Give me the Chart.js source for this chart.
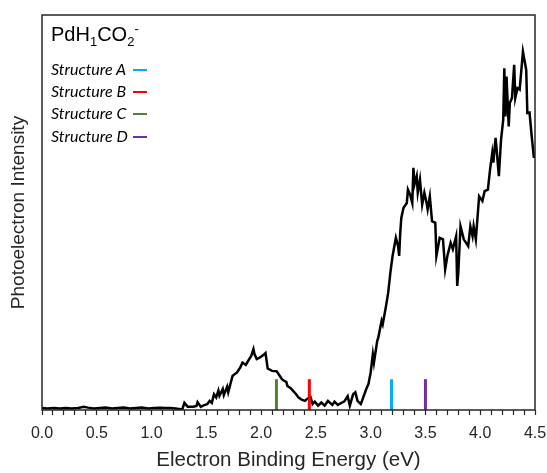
<!DOCTYPE html>
<html lang="en">
<head>
<meta charset="UTF-8">
<title>PdH1CO2- photoelectron spectrum</title>
<script src="https://cdn.jsdelivr.net/npm/chart.js@4.4.2/dist/chart.umd.min.js"></script>
<style>
    body {
        margin: 0;
        background: #fff;
    }
    .wrap {
        position: relative;
        width: 547px;
        height: 473px;
    }
    .species {
        position: absolute;
        left: 51px;
        top: 22px;
        font-family: "Liberation Sans", Arial, sans-serif;
        font-size: 20px;
        color: #000;
        line-height: 24px;
    }
    .species sub, .species sup {
        font-size: 13px;
        line-height: 0;
    }
    .struct {
        position: absolute;
        left: 51px;
        font-family: Lato, "Open Sans", sans-serif;
        font-style: italic;
        font-size: 16px;
        color: #000;
        line-height: 18px;
    }
    .dash {
        position: absolute;
        width: 14px;
        height: 2px;
    }
</style>
</head>
<body>
<div class="wrap">
    <canvas id="pesChart" width="547" height="473"></canvas>
    <div class="species">PdH<sub>1</sub>CO<sub>2</sub><sup>-</sup></div>
    <div id="legend"></div>
</div>

<script>
// electron binding energy (eV) and photoelectron intensity (arb. units, 0-100)
const energy = [
    0.00, 0.05, 0.11, 0.16, 0.22, 0.27, 0.33, 0.38, 0.42, 0.47,
    0.53, 0.58, 0.64, 0.69, 0.75, 0.80, 0.86, 0.91, 0.97, 1.02,
    1.08, 1.13, 1.17, 1.22, 1.28, 1.30, 1.33, 1.38, 1.41, 1.42,
    1.45, 1.47, 1.51, 1.53, 1.55, 1.57, 1.59, 1.61, 1.62, 1.65,
    1.66, 1.69, 1.70, 1.72, 1.74, 1.78, 1.81, 1.83, 1.86, 1.88,
    1.91, 1.93, 1.94, 1.96, 1.99, 2.02, 2.04, 2.06, 2.10, 2.14,
    2.15, 2.19, 2.21, 2.23, 2.24, 2.27, 2.29, 2.32, 2.34, 2.37,
    2.40, 2.42, 2.45, 2.47, 2.49, 2.52, 2.55, 2.58, 2.61, 2.65,
    2.67, 2.70, 2.74, 2.76, 2.79, 2.81, 2.84, 2.86, 2.88, 2.91,
    2.93, 2.96, 2.98, 3.00, 3.02, 3.03, 3.06, 3.07, 3.10, 3.11,
    3.14, 3.16, 3.18, 3.20, 3.23, 3.25, 3.26, 3.27, 3.28, 3.30,
    3.33, 3.34, 3.36, 3.38, 3.39, 3.40, 3.42, 3.43, 3.45, 3.47,
    3.48, 3.49, 3.51, 3.52, 3.54, 3.56, 3.59, 3.60, 3.63, 3.66,
    3.68, 3.70, 3.73, 3.75, 3.78, 3.79, 3.80, 3.82, 3.85, 3.89,
    3.91, 3.93, 3.94, 3.96, 3.99, 4.02, 4.04, 4.07, 4.09, 4.11,
    4.12, 4.14, 4.15, 4.17, 4.19, 4.21, 4.22, 4.23, 4.24, 4.26,
    4.27, 4.29, 4.31, 4.32, 4.34, 4.36, 4.39, 4.42, 4.43, 4.45,
    4.47, 4.49
];
const intensity = [
    0.5, 0.4, 0.5, 0.4, 0.5, 0.4, 0.5, 0.8, 0.6, 0.4,
    0.5, 0.6, 0.4, 0.5, 0.6, 0.4, 0.5, 0.6, 0.4, 0.5,
    0.6, 0.5, 0.5, 0.4, 0.1, 1.8, 0.8, 0.8, 1.0, 2.0,
    0.8, 1.1, 1.5, 2.3, 1.8, 4.0, 3.2, 4.9, 3.6, 5.3,
    3.8, 5.9, 4.5, 6.6, 8.7, 9.5, 10.8, 12.0, 11.4, 12.4,
    13.7, 15.4, 14.1, 12.9, 13.3, 13.9, 14.4, 10.5, 9.9, 9.8,
    9.5, 7.8, 7.4, 7.1, 6.1, 5.5, 4.9, 4.0, 3.2, 2.6,
    2.3, 2.8, 3.3, 1.5, 2.1, 1.1, 1.9, 1.1, 2.3, 1.3,
    2.1, 1.3, 1.9, 2.2, 3.5, 1.1, 4.0, 4.5, 2.3, 1.5,
    3.0, 5.3, 6.6, 9.5, 14.1, 12.0, 17.5, 18.4, 22.6, 21.7,
    26.3, 29.7, 34.8, 39.0, 43.6, 41.5, 39.0, 44.9, 48.7, 51.2,
    52.4, 55.8, 54.5, 52.4, 61.3, 57.1, 59.2, 55.0, 58.3, 52.0,
    53.5, 55.0, 52.5, 50.8, 54.1, 47.8, 47.4, 39.0, 43.6, 43.2,
    35.6, 39.0, 42.3, 40.7, 44.0, 31.4, 34.8, 46.5, 43.2, 41.5,
    46.5, 44.0, 46.5, 43.2, 54.1, 52.9, 55.4, 55.8, 60.9, 65.1,
    62.6, 68.9, 65.9, 59.2, 68.4, 73.5, 86.5, 74.3, 84.4, 71.8,
    77.7, 79.0, 87.4, 79.0, 81.5, 81.1, 90.7, 86.1, 75.2, 75.3,
    69.3, 63.8
];

// calculated detachment energies of the four candidate structures
const structureNames = ['Structure A', 'Structure B', 'Structure C', 'Structure D'];
const structureEnergies = [3.19, 2.44, 2.14, 3.50];
const structureColors = ['#00b0f0', '#ff0000', '#548235', '#7030a0'];
const stickHeight = 7.8;

const tickStep = 0.1;
const xMin = 0, xMax = 4.5;

// one short vertical stick per structure, drawn on top of the spectrum
const stickSets = structureEnergies.map((e, i) => ({
    data: [{x: e, y: 0}, {x: e, y: stickHeight}],
    borderColor: structureColors[i],
    borderWidth: 3,
    pointRadius: 0
}));

// plot frame on all four sides
const framePlugin = {
    id: 'frame',
    afterDraw(chart) {
        const {ctx, chartArea: a} = chart;
        ctx.save();
        ctx.strokeStyle = '#262626';
        ctx.lineWidth = 1.5;
        ctx.strokeRect(a.left, a.top, a.right - a.left, a.bottom - a.top);
        ctx.restore();
    }
};

const axisFont = '"Liberation Sans", Arial, sans-serif';

new Chart(document.getElementById('pesChart'), {
    type: 'line',
    data: {
        datasets: [
            ...stickSets,
            {
                data: energy.map((e, i) => ({x: e, y: intensity[i]})),
                borderColor: '#000',
                borderWidth: 2.5,
                pointRadius: 0,
                tension: 0
            }
        ]
    },
    options: {
        responsive: false,
        animation: false,
        layout: {padding: {top: 15, right: 12, left: 0, bottom: 0}},
        plugins: {
            legend: {display: false},
            tooltip: {enabled: false}
        },
        scales: {
            x: {
                type: 'linear',
                min: xMin,
                max: xMax,
                afterFit: s => {
                    s.height = 63;
                    s.paddingLeft = 0;
                    s.paddingRight = 0;
                },
                grid: {
                    drawOnChartArea: false,
                    tickLength: 5,
                    tickColor: '#262626',
                    tickWidth: 1.2
                },
                border: {display: false},
                ticks: {
                    stepSize: tickStep,
                    autoSkip: false,
                    maxRotation: 0,
                    padding: 9,
                    color: '#262626',
                    font: {family: axisFont, size: 16},
                    callback: v => Math.abs(v * 2 - Math.round(v * 2)) < 1e-6 ? v.toFixed(1) : ''
                },
                title: {
                    display: true,
                    text: 'Electron Binding Energy (eV)',
                    color: '#262626',
                    font: {family: axisFont, size: 20.5},
                    padding: {top: 0, bottom: 0}
                }
            },
            y: {
                min: 0,
                max: 100,
                afterFit: s => { s.width = 42; },
                grid: {display: false},
                border: {display: false},
                ticks: {display: false},
                title: {
                    display: true,
                    text: 'Photoelectron Intensity',
                    color: '#262626',
                    font: {family: axisFont, size: 19},
                    padding: {top: 7, bottom: 0}
                }
            }
        }
    },
    plugins: [framePlugin]
});

// structure key in the upper-left corner
const legend = document.getElementById('legend');
const rowTop = [60, 82, 104, 127];
structureNames.forEach((name, i) => {
    const label = document.createElement('div');
    label.className = 'struct';
    label.style.top = rowTop[i] + 'px';
    label.textContent = name;
    legend.appendChild(label);

    const dash = document.createElement('div');
    dash.className = 'dash';
    dash.style.left = '133px';
    dash.style.top = (rowTop[i] + 9) + 'px';
    dash.style.background = structureColors[i];
    legend.appendChild(dash);
});
</script>
</body>
</html>
